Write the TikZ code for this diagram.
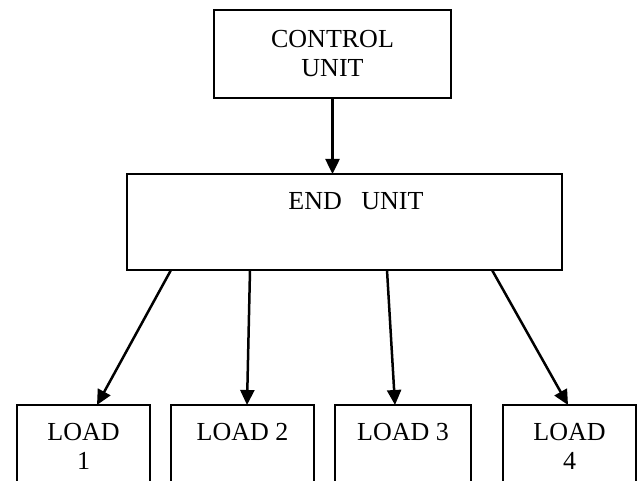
\documentclass[tikz,border=0pt]{standalone}
\usepackage{fontspec}
\setmainfont{Liberation Serif}
\usetikzlibrary{positioning, arrows.meta}

\tikzset{
  unitbox/.style={draw, line width=2pt, inner sep=0pt, outer sep=0pt},
  toptext/.style={label={[anchor=north, inner sep=0pt, align=center, yshift=-18pt]north:{#1}}},
}

\begin{document}
\begin{tikzpicture}[x=1pt, y=-1pt, >={Triangle[length=15pt, width=14pt]},
    font=\fontsize{26}{29}\selectfont]
  \clip (0,0) rectangle (637,481);

  \node[unitbox, align=center, minimum width=237pt, minimum height=88pt] (ctrl) at (332.5,54) {CONTROL\\UNIT};
  \node[unitbox, minimum width=435pt, minimum height=96pt,
    label={[anchor=north, inner sep=0pt, xshift=11.5pt, yshift=-18pt]north:END~~~UNIT}] (endunit) at (344.5,222) {};

  \node[unitbox, anchor=north, minimum width=133pt, minimum height=100pt, toptext={LOAD\\1}] (load1) at (83.5,405) {};
  \node[unitbox, anchor=north, minimum width=143pt, minimum height=100pt, toptext={LOAD 2}] (load2) at (242.5,405) {};
  \node[unitbox, anchor=north, minimum width=136pt, minimum height=100pt, toptext={LOAD 3}] (load3) at (403,405) {};
  \node[unitbox, anchor=north, minimum width=133pt, minimum height=100pt, toptext={LOAD\\4}] (load4) at (569.5,405) {};

  \draw[->, line width=2.5pt] (ctrl.south) -- (ctrl.south |- endunit.north);

  % feeds from the end unit down to each load
  \draw[->, line width=2.5pt] ([xshift=44pt]endunit.south west) -- ([xshift=13.5pt]load1.north);
  \draw[->, line width=2.5pt] ([xshift=123pt]endunit.south west) -- ([xshift=4.5pt]load2.north);
  \draw[->, line width=2.5pt] ([xshift=260pt]endunit.south west) -- ([xshift=-8pt]load3.north);
  \draw[->, line width=2.5pt] ([xshift=365pt]endunit.south west) -- ([xshift=-1.5pt]load4.north);
\end{tikzpicture}
\end{document}
